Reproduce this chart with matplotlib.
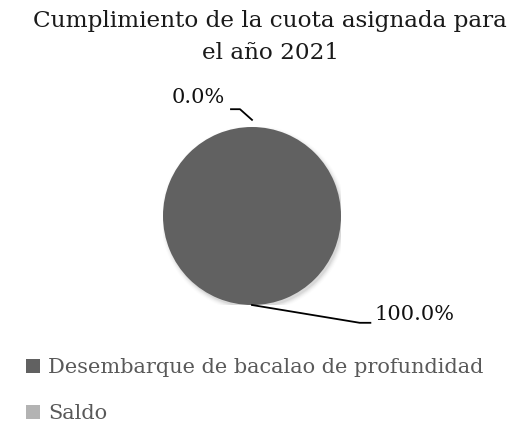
import matplotlib
matplotlib.use("Agg")
import matplotlib.pyplot as plt
from matplotlib.patches import Patch
import numpy as np

title = "Cumplimiento de la cuota asignada para\nel año 2021"
categories = ["Desembarque de bacalao de profundidad", "Saldo"]
values = [100.0, 0.0]
pct_labels = ["100.0%", "0.0%"]
colors = ["#616161", "#b3b3b3"]

W, H = 517, 425
fig = plt.figure(figsize=(W / 100, H / 100), dpi=100)
plt.rcParams['font.family'] = ['DejaVu Serif']

cx, cy, r = 252, 216, 89
ax = fig.add_axes([(cx - r) / W, (H - cy - r) / H, 2 * r / W, 2 * r / H])
ax.axis('off')

# soft shadow
for i, a in enumerate(np.linspace(0.05, 0.01, 5)):
    ax.add_patch(plt.Circle((0.02, -0.03), 1.0 + 0.012 * i, color='black', alpha=a, lw=0, zorder=0))

wedges, _ = ax.pie(values, colors=colors, startangle=90, counterclock=False,
                   radius=1.0, wedgeprops=dict(linewidth=0))
for w in wedges:
    w.set_zorder(2)
ax.set_xlim(-1, 1)
ax.set_ylim(-1, 1)
ax.set_aspect('equal')

# leader lines and labels
for w, lab in zip(wedges, pct_labels):
    ang = np.deg2rad((w.theta1 + w.theta2) / 2)
    x0, y0 = np.cos(ang), np.sin(ang)
    if y0 > 0:
        p1 = (x0, y0 + 0.08)
        p2 = (x0 - 0.135, 1.20)
        p3 = (x0 - 0.236, 1.20)
        ax.plot([p1[0], p2[0], p3[0]], [p1[1], p2[1], p3[1]], color='black', lw=1.3, clip_on=False, zorder=3)
        ax.text(x0 - 0.30, 1.33, lab, ha='right', va='center', fontsize=15, color='#111111')
    else:
        p1 = (x0, y0)
        p2 = (x0 + 1.21, -1.20)
        p3 = (x0 + 1.33, -1.20)
        ax.plot([p1[0], p2[0], p3[0]], [p1[1], p2[1], p3[1]], color='black', lw=1.3, clip_on=False, zorder=3)
        ax.text(x0 + 1.38, -1.11, lab, ha='left', va='center', fontsize=15, color='#111111')

fig.text(270 / W, 1 - 37 / H, title, ha='center', va='center', fontsize=16.7,
         color='#1a1a1a', linespacing=1.55)

handles = [Patch(facecolor=c, edgecolor='none') for c in colors]
leg = fig.legend(handles, categories, loc='upper left', bbox_to_anchor=(26 / W, 1 - 358 / H),
                 frameon=False, fontsize=15, handlelength=0.65, handleheight=0.65,
                 handletextpad=0.4, labelspacing=1.3, borderaxespad=0, borderpad=0)
for t in leg.get_texts():
    t.set_color('#595959')

fig.savefig("out.png", dpi=100)
